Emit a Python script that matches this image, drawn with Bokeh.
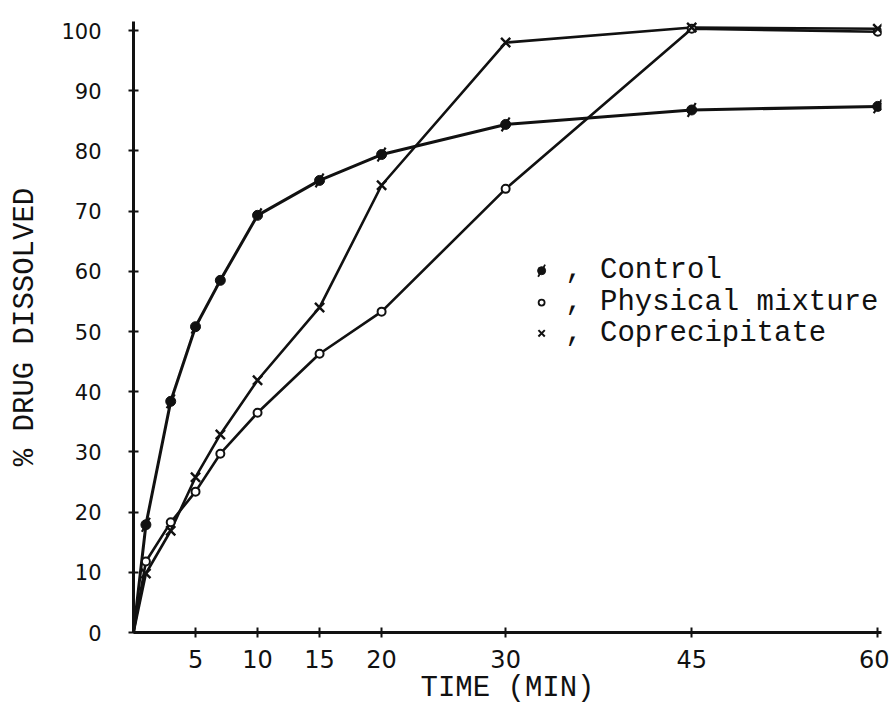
import math
from bokeh.plotting import figure
from bokeh.models import FixedTicker, Range1d, ColumnDataSource
from bokeh.core.properties import value
from bokeh.embed import file_html
from bokeh.resources import INLINE

# ---- data ----
times = [0, 1, 3, 5, 7, 10, 15, 20, 30, 45, 60]
control = [0, 17.9, 38.4, 50.8, 58.5, 69.3, 75.1, 79.4, 84.4, 86.8, 87.4]
physical = [0, 11.8, 18.3, 23.4, 29.7, 36.5, 46.3, 53.3, 73.7, 100.3, 99.8]
coprecip = [0, 9.8, 16.9, 25.8, 32.9, 41.9, 54.0, 74.3, 98.0, 100.5, 100.3]

x_ticks = [5, 10, 15, 20, 30, 45, 60]
y_ticks = [0, 10, 20, 30, 40, 50, 60, 70, 80, 90, 100]
legend_names = ["Control", "Physical mixture", "Coprecipitate"]

# ---- layout / style ----
MONO = "Liberation Mono"
NUM = "DejaVu Sans"
INK = "#111111"

p = figure(width=889, height=710,
           x_range=Range1d(0, 60.3), y_range=Range1d(0, 101.5),
           output_backend="svg", toolbar_location=None,
           min_border_left=133, min_border_right=8,
           min_border_top=21, min_border_bottom=78)
p.outline_line_color = None
p.grid.visible = False
p.background_fill_color = "white"
p.border_fill_color = "white"

for ax in (p.xaxis[0], p.yaxis[0]):
    ax.axis_line_color = INK
    ax.axis_line_width = 3
    ax.major_tick_line_color = INK
    ax.major_tick_line_width = 2
    ax.major_tick_in = 5
    ax.major_tick_out = 5
    ax.minor_tick_line_color = None
    ax.major_label_text_font = NUM
    ax.major_label_text_color = INK
    ax.axis_label_text_font = MONO
    ax.axis_label_text_font_style = "normal"
    ax.axis_label_text_font_size = "29px"
    ax.axis_label_text_color = INK

p.xaxis.ticker = FixedTicker(ticks=x_ticks)
p.yaxis.ticker = FixedTicker(ticks=y_ticks)
p.xaxis.major_label_text_font_size = "24px"
p.yaxis.major_label_text_font_size = "21px"
p.xaxis.major_label_standoff = 12
p.yaxis.major_label_standoff = 27
p.xaxis.axis_label = "TIME (MIN)"
p.yaxis.axis_label = "% DRUG DISSOLVED"
p.xaxis.axis_label_standoff = 1
p.yaxis.axis_label_standoff = 16

# ---- series ----
src = ColumnDataSource(dict(t=times, c=control, p=physical, x=coprecip))
pts = ColumnDataSource(dict(t=times[1:], c=control[1:], p=physical[1:], x=coprecip[1:]))

p.line("t", "c", source=src, line_width=3, line_color=INK)
p.line("t", "p", source=src, line_width=2.6, line_color=INK)
p.line("t", "x", source=src, line_width=2.6, line_color=INK)

# control: filled dot with a slash
p.scatter("t", "c", source=pts, marker="circle", size=10, fill_color=INK, line_color=INK)
p.scatter("t", "c", source=pts, marker="dash", size=16, angle=math.pi / 3,
          line_color=INK, line_width=2.2)
# physical mixture: open circle
p.scatter("t", "p", source=pts, marker="circle", size=8, fill_color="white",
          line_color=INK, line_width=2)
# coprecipitate: x
p.scatter("t", "x", source=pts, marker="x", size=13, line_color=INK, line_width=2.4)

# ---- hand-made key ----
key_x_sym = 32.9
key_x_txt = 34.8
key_y = [60.1, 54.8, 49.7]
p.scatter([key_x_sym], [key_y[0]], marker="circle", size=8, fill_color=INK, line_color=INK)
p.scatter([key_x_sym], [key_y[0]], marker="dash", size=14, angle=math.pi / 3,
          line_color=INK, line_width=1.8)
p.scatter([key_x_sym], [key_y[1]], marker="circle", size=6, fill_color="white",
          line_color=INK, line_width=1.8)
p.scatter([key_x_sym], [key_y[2]], marker="x", size=9, line_color=INK, line_width=2)
p.text(x=[key_x_txt] * 3, y=key_y, text=[", " + n for n in legend_names],
       text_font=value(MONO), text_font_size="29px", text_baseline="middle",
       text_align="left", text_color=INK)

open("out.html", "w").write(file_html(p, INLINE))
